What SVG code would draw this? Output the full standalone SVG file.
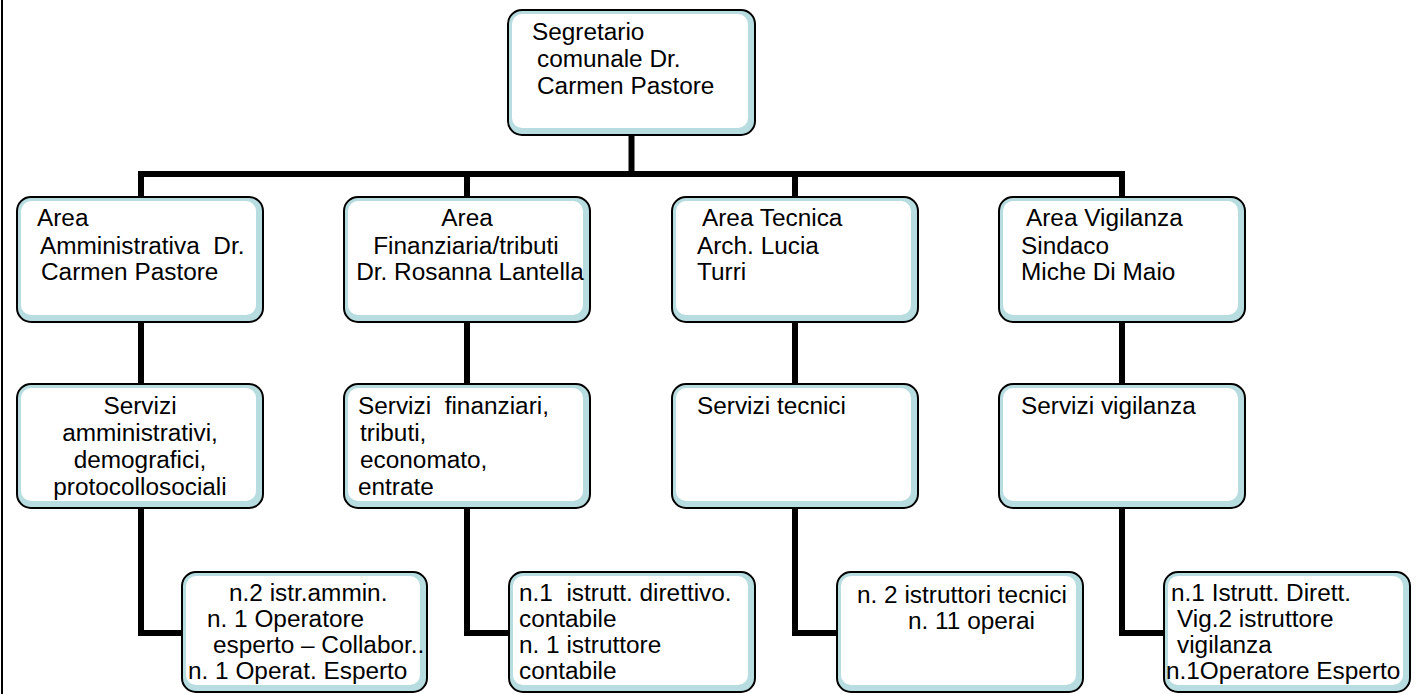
<svg xmlns="http://www.w3.org/2000/svg" width="1418" height="694" viewBox="0 0 1418 694">
<style>
.bg{fill:#b7dde0;stroke:#000;stroke-width:2}
.in{fill:#fff}
text{font-family:"Liberation Sans",Arial,sans-serif;font-size:23px;fill:#000}
.c{text-anchor:middle}
.con{fill:none;stroke:#000;stroke-width:6;stroke-linejoin:miter}
</style>
<rect x="1" y="0" width="2" height="694" fill="#000"/>
<g id="connectors">
<path class="con" d="M631.5 135V174"/>
<path class="con" d="M138 174H1125"/>
<path class="con" d="M141 174V197M467 174V197M795 174V197M1122 174V197"/>
<path class="con" d="M141 322V384M467 322V384M795 322V384M1122 322V384"/>
<path class="con" d="M141 508V633H182M467 508V633H509M795 508V633H837M1122 508V633H1164"/>
</g>
<g id="n_segretario">
<rect class="bg" x="508" y="10" width="247" height="125" rx="14"/>
<rect class="in" x="512" y="14" width="236" height="114" rx="10"/>
<text transform="translate(532 40) scale(1.06 1)">Segretario</text>
<text transform="translate(537 67) scale(1.06 1)">comunale Dr.</text>
<text transform="translate(537 94) scale(1.06 1)">Carmen Pastore</text>
</g>
<g id="n_area_amm">
<rect class="bg" x="17" y="197" width="246" height="125" rx="14"/>
<rect class="in" x="21" y="201" width="235" height="114" rx="10"/>
<text transform="translate(37 226) scale(1.06 1)">Area</text>
<text transform="translate(40 254) scale(1.06 1)" xml:space="preserve">Amministrativa  Dr.</text>
<text transform="translate(41 280) scale(1.06 1)">Carmen Pastore</text>
</g>
<g id="n_area_fin">
<rect class="bg" x="344" y="197" width="246" height="125" rx="14"/>
<rect class="in" x="348" y="201" width="235" height="114" rx="10"/>
<text class="c" transform="translate(467 226) scale(1.06 1)">Area</text>
<text class="c" transform="translate(466 254) scale(1.06 1)">Finanziaria/tributi</text>
<text class="c" transform="translate(470 280) scale(1.06 1)">Dr. Rosanna Lantella</text>
</g>
<g id="n_area_tec">
<rect class="bg" x="672" y="197" width="246" height="125" rx="14"/>
<rect class="in" x="676" y="201" width="235" height="114" rx="10"/>
<text transform="translate(702 226) scale(1.06 1)">Area Tecnica</text>
<text transform="translate(697 254) scale(1.06 1)">Arch. Lucia</text>
<text transform="translate(697 280) scale(1.06 1)">Turri</text>
</g>
<g id="n_area_vig">
<rect class="bg" x="999" y="197" width="246" height="125" rx="14"/>
<rect class="in" x="1003" y="201" width="235" height="114" rx="10"/>
<text transform="translate(1026 226) scale(1.06 1)">Area Vigilanza</text>
<text transform="translate(1021 254) scale(1.06 1)">Sindaco</text>
<text transform="translate(1021 280) scale(1.06 1)">Miche Di Maio</text>
</g>
<g id="n_serv_amm">
<rect class="bg" x="17" y="384" width="246" height="124" rx="14"/>
<rect class="in" x="21" y="388" width="235" height="113" rx="10"/>
<text class="c" transform="translate(140 414) scale(1.06 1)">Servizi</text>
<text class="c" transform="translate(140 441) scale(1.06 1)">amministrativi,</text>
<text class="c" transform="translate(140 468) scale(1.06 1)">demografici,</text>
<text class="c" transform="translate(140 495) scale(1.06 1)">protocollosociali</text>
</g>
<g id="n_serv_fin">
<rect class="bg" x="344" y="384" width="246" height="124" rx="14"/>
<rect class="in" x="348" y="388" width="235" height="113" rx="10"/>
<text transform="translate(358 414) scale(1.06 1)" xml:space="preserve">Servizi  finanziari,</text>
<text transform="translate(360 441) scale(1.06 1)">tributi,</text>
<text transform="translate(360 468) scale(1.06 1)">economato,</text>
<text transform="translate(358 495) scale(1.06 1)">entrate</text>
</g>
<g id="n_serv_tec">
<rect class="bg" x="672" y="384" width="246" height="124" rx="14"/>
<rect class="in" x="676" y="388" width="235" height="113" rx="10"/>
<text transform="translate(697 414) scale(1.06 1)">Servizi tecnici</text>
</g>
<g id="n_serv_vig">
<rect class="bg" x="999" y="384" width="246" height="124" rx="14"/>
<rect class="in" x="1003" y="388" width="235" height="113" rx="10"/>
<text transform="translate(1021 414) scale(1.06 1)">Servizi vigilanza</text>
</g>
<g id="n_pers_amm">
<rect class="bg" x="182" y="572" width="245" height="120" rx="14"/>
<rect class="in" x="186" y="576" width="234" height="109" rx="10"/>
<text transform="translate(229 601) scale(1.06 1)">n.2 istr.ammin.</text>
<text transform="translate(207 627) scale(1.06 1)">n. 1 Operatore</text>
<text transform="translate(213 653) scale(1.06 1)">esperto – Collabor..</text>
<text transform="translate(188 679) scale(1.06 1)">n. 1 Operat. Esperto</text>
</g>
<g id="n_pers_fin">
<rect class="bg" x="509" y="572" width="246" height="120" rx="14"/>
<rect class="in" x="513" y="576" width="235" height="109" rx="10"/>
<text transform="translate(519 601) scale(1.06 1)" xml:space="preserve">n.1  istrutt. direttivo.</text>
<text transform="translate(519 627) scale(1.06 1)">contabile</text>
<text transform="translate(519 653) scale(1.06 1)">n. 1 istruttore</text>
<text transform="translate(519 679) scale(1.06 1)">contabile</text>
</g>
<g id="n_pers_tec">
<rect class="bg" x="837" y="572" width="246" height="120" rx="14"/>
<rect class="in" x="841" y="576" width="235" height="109" rx="10"/>
<text transform="translate(857 603) scale(1.06 1)">n. 2 istruttori tecnici</text>
<text transform="translate(908 629) scale(1.06 1)">n. 11 operai</text>
</g>
<g id="n_pers_vig">
<rect class="bg" x="1164" y="572" width="246" height="120" rx="14"/>
<rect class="in" x="1168" y="576" width="235" height="109" rx="10"/>
<text transform="translate(1171 601) scale(1.06 1)">n.1 Istrutt. Dirett.</text>
<text transform="translate(1177 627) scale(1.06 1)">Vig.2 istruttore</text>
<text transform="translate(1177 653) scale(1.06 1)">vigilanza</text>
<text transform="translate(1166 679) scale(1.06 1)">n.1Operatore Esperto</text>
</g>
</svg>
